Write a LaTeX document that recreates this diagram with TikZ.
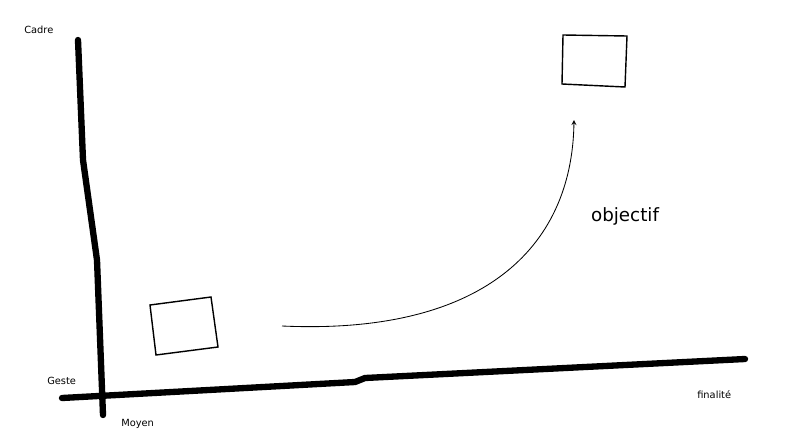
\documentclass[tikz,border=0pt]{standalone}
\usepackage{fontspec}
\setmainfont{DejaVu Sans}
\begin{document}
\begin{tikzpicture}[x=0.025cm,y=-0.025cm,
    axe/.style={line width=4.5pt,line cap=round,line join=round},
    etiq/.style={font=\fontsize{7}{8}\selectfont,inner sep=0pt},
    boite/.style={draw,line width=1pt}]
        \useasboundingbox (0,0) rectangle (800,440);
        \draw[axe] (78,40)--(83,160)--(97,260)--(103,415); %Cadre -- Moyen
        \draw[axe] (62,398)--(355,382)--(365,378)--(745,359); %Geste -- finalite
        \node[etiq,anchor=west] (cadre) at (24,30) {Cadre};
        \node[etiq,anchor=west] (geste) at (47,381) {Geste};
        \node[etiq,anchor=west] (moyen) at (121,424) {Moyen};
        \node[etiq,anchor=west] (finalite) at (697,395) {finalité};
        \node[font=\fontsize{13}{15}\selectfont,inner sep=0pt] (objectif) at (625,216) {objectif};
        \draw[boite] (150,305)--(211,297)--(218,347)--(156,355)--cycle;
        \draw[boite] (563,35)--(627,36)--(625,87)--(562,84)--cycle;
        \coordinate (depart) at (282,326);
        \coordinate (arrivee) at (574,120);
        \draw[->,>=stealth,semithick] (depart) .. controls (480,335) and (572,250) .. (arrivee);
    \end{tikzpicture}
\end{document}
